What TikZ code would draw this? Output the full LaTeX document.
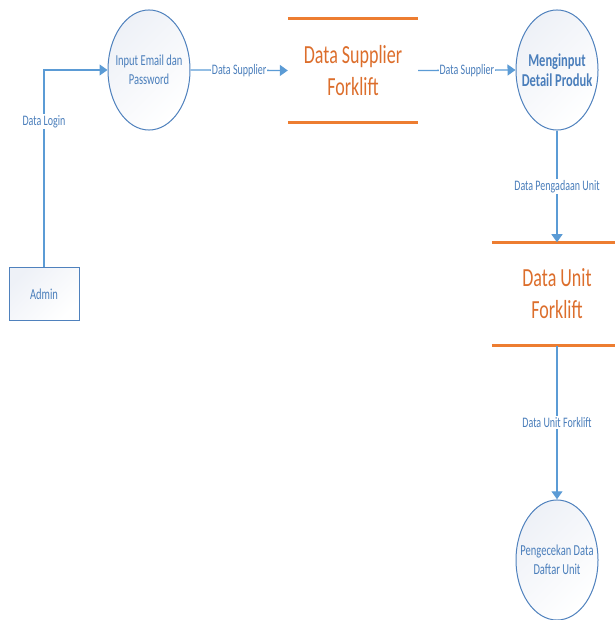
\documentclass[tikz,border=0pt]{standalone}
\usepackage{fontspec}
\setmainfont{Carlito}
\usetikzlibrary{shapes.geometric,arrows.meta}
\definecolor{flowblue}{HTML}{5B9BD5}
\definecolor{edgeblue}{HTML}{4F81BD}
\definecolor{labelblue}{HTML}{4A7EBB}
\definecolor{storeorange}{HTML}{ED7D31}
\definecolor{storetext}{HTML}{DC6E2C}
\definecolor{shadeblue}{HTML}{EEF1F7}
\tikzset{
  stretch/.style={yscale=1.45,transform shape},
  process/.style={ellipse,draw=edgeblue,line width=1pt,stretch,minimum width=82pt,
    minimum height=82.8pt,inner sep=-12pt,align=center,text=labelblue,
    shading=axis,top color=shadeblue,bottom color=white,shading angle=45,
    font=\fontsize{10.5}{13}\selectfont},
  entity/.style={rectangle,draw=edgeblue,line width=1pt,stretch,minimum width=70pt,
    minimum height=36pt,text=labelblue,
    shading=axis,top color=shadeblue,bottom color=white,shading angle=45,
    font=\fontsize{10.5}{13}\selectfont},
  store/.style={rectangle,stretch,minimum width=130pt,minimum height=71pt,align=center,
    text=storetext,font=\fontsize{18}{22}\selectfont},
  storeline/.style={draw=storeorange,line width=3pt},
  flow/.style={draw=flowblue,line width=1.3pt,-{Triangle[length=8pt,width=11pt]}},
  flowlabel/.style={fill=white,inner sep=1pt,text=labelblue,stretch,
    font=\fontsize{10}{12}\selectfont}
}
\begin{document}
\begin{tikzpicture}[x=1pt,y=1pt]
    \useasboundingbox (0,0) rectangle (614,-620);
    \node[entity] (admin) at (44,-294) {Admin};
    \node[process] (input) at (149,-70) {Input Email dan\\Password};
    \node[store] (supplier) at (353,-70.5) {Data Supplier\\Forklift};
    \node[process,font=\fontsize{12.5}{14}\selectfont\bfseries] (detail) at (557,-70) {Menginput\\Detail Produk};
    \node[store] (unit) at (557,-294) {Data Unit\\Forklift};
    \node[process] (cek) at (557,-560) {Pengecekan Data\\Daftar Unit};
    \foreach \s in {supplier,unit}
    {
        \draw[storeline] (\s.north west) -- (\s.north east);
        \draw[storeline] (\s.south west) -- (\s.south east);
    }
    \draw[flow] (admin.north) |- (input.west) node[flowlabel,pos=0.37]{Data Login};
    \draw[flow] (input.east) -- (supplier.west) node[flowlabel,midway]{Data Supplier};
    \draw[flow] (supplier.east) -- (detail.west) node[flowlabel,midway]{Data Supplier};
    \draw[flow] (detail.south) -- (unit.north) node[flowlabel,midway]{Data Pengadaan Unit};
    \draw[flow] (unit.south) -- (cek.north) node[flowlabel,midway]{Data Unit Forklift};
\end{tikzpicture}
\end{document}
